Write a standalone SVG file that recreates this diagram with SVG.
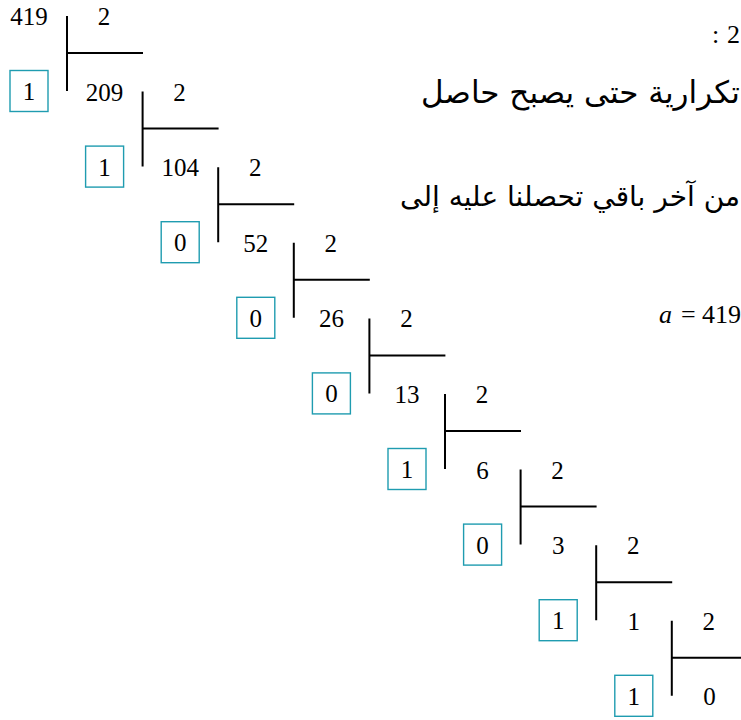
<svg xmlns="http://www.w3.org/2000/svg" width="741" height="720" viewBox="0 0 741 720">
<style>
.n{font-family:"Liberation Serif","DejaVu Serif",serif;font-size:25px;fill:#000;text-anchor:middle}
.ln{stroke:#000;stroke-width:2;fill:none}
.bx{fill:none;stroke:#1f9cb0;stroke-width:1.4}
.ar{font-family:"DejaVu Sans","Noto Sans",sans-serif;fill:#000;text-anchor:end}
.m{font-family:"Liberation Serif","DejaVu Serif",serif;font-size:26px;fill:#000}
</style>
<rect width="741" height="720" fill="#fff"/>
<g id="connectors">
<path class="ln" d="M67,16V91M67,53H143"/>
<path class="ln" d="M142.6,91.6V166.6M142.6,128.6H218.6"/>
<path class="ln" d="M218.2,167.2V242.2M218.2,204.2H294.2"/>
<path class="ln" d="M293.8,242.8V317.8M293.8,279.8H369.8"/>
<path class="ln" d="M369.4,318.4V393.4M369.4,355.4H445.4"/>
<path class="ln" d="M445,394V469M445,431H521"/>
<path class="ln" d="M520.6,469.6V544.6M520.6,506.6H596.6"/>
<path class="ln" d="M596.2,545.2V620.2M596.2,582.2H672.2"/>
<path class="ln" d="M671.8,620.8V695.8M671.8,657.8H747.8"/>
</g>
<g id="row0"><text class="n" x="29" y="25">419</text><text class="n" x="104" y="25">2</text></g>
<g id="row1"><text class="n" x="104.6" y="100.6">209</text><text class="n" x="179.6" y="100.6">2</text></g>
<g id="row2"><text class="n" x="180.2" y="176.2">104</text><text class="n" x="255.2" y="176.2">2</text></g>
<g id="row3"><text class="n" x="255.8" y="251.8">52</text><text class="n" x="330.8" y="251.8">2</text></g>
<g id="row4"><text class="n" x="331.4" y="327.4">26</text><text class="n" x="406.4" y="327.4">2</text></g>
<g id="row5"><text class="n" x="407" y="403">13</text><text class="n" x="482" y="403">2</text></g>
<g id="row6"><text class="n" x="482.6" y="478.6">6</text><text class="n" x="557.6" y="478.6">2</text></g>
<g id="row7"><text class="n" x="558.2" y="554.2">3</text><text class="n" x="633.2" y="554.2">2</text></g>
<g id="row8"><text class="n" x="633.8" y="629.8">1</text><text class="n" x="708.8" y="629.8">2</text></g>
<g id="row9"><text class="n" x="709.4" y="705.4">0</text></g>
<g id="r0"><rect class="bx" x="10" y="70.5" width="38" height="41"/><text class="n" x="29" y="100">1</text></g>
<g id="r1"><rect class="bx" x="85.6" y="146.1" width="38" height="41"/><text class="n" x="104.6" y="175.6">1</text></g>
<g id="r2"><rect class="bx" x="161.2" y="221.7" width="38" height="41"/><text class="n" x="180.2" y="251.2">0</text></g>
<g id="r3"><rect class="bx" x="236.8" y="297.3" width="38" height="41"/><text class="n" x="255.8" y="326.8">0</text></g>
<g id="r4"><rect class="bx" x="312.4" y="372.9" width="38" height="41"/><text class="n" x="331.4" y="402.4">0</text></g>
<g id="r5"><rect class="bx" x="388" y="448.5" width="38" height="41"/><text class="n" x="407" y="478">1</text></g>
<g id="r6"><rect class="bx" x="463.6" y="524.1" width="38" height="41"/><text class="n" x="482.6" y="553.6">0</text></g>
<g id="r7"><rect class="bx" x="539.2" y="599.7" width="38" height="41"/><text class="n" x="558.2" y="629.2">1</text></g>
<g id="r8"><rect class="bx" x="614.8" y="675.3" width="38" height="41"/><text class="n" x="633.8" y="704.8">1</text></g>
<g id="text">
<text class="m" x="712" y="43">:</text>
<text class="m" x="727" y="43">2</text>
<text class="ar" x="740" y="103" font-size="31">تكرارية حتى يصبح حاصل</text>
<text class="ar" x="740" y="206" font-size="28">من آخر باقي تحصلنا عليه إلى</text>
<text class="m" y="323"><tspan x="659" font-style="italic">a</tspan><tspan x="681">=</tspan><tspan x="702">419</tspan></text>
</g>
</svg>
